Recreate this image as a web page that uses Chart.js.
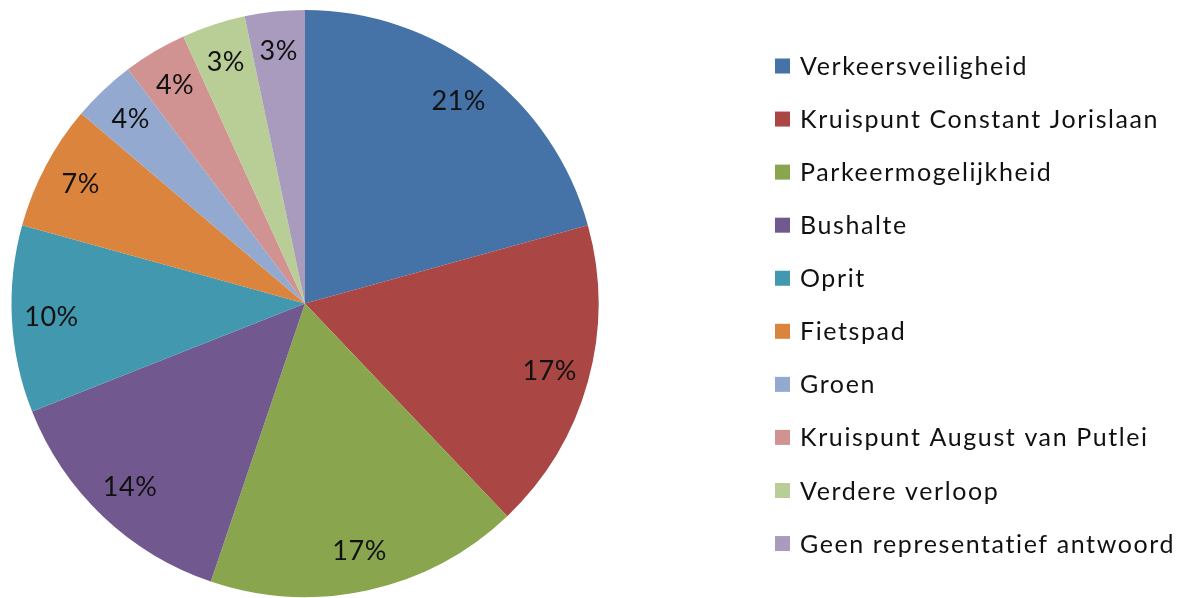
<!DOCTYPE html>
<html>
<head>
<meta charset="utf-8">
<script src="https://cdn.jsdelivr.net/npm/chart.js@4"></script>
<style>
  html, body { margin: 0; padding: 0; background: #ffffff; }
  #wrap { width: 1192px; height: 598px; }
</style>
</head>
<body>
<div id="wrap"><canvas id="c" width="1192" height="598"></canvas></div>
<script>
const categories = [
  'Verkeersveiligheid',
  'Kruispunt Constant Jorislaan',
  'Parkeermogelijkheid',
  'Bushalte',
  'Oprit',
  'Fietspad',
  'Groen',
  'Kruispunt August van Putlei',
  'Verdere verloop',
  'Geen representatief antwoord'
];
const shares = [20.7, 17.2, 17.3, 13.8, 10.3, 6.9, 3.5, 3.5, 3.5, 3.3];
const shareLabels = ['21%', '17%', '17%', '14%', '10%', '7%', '4%', '4%', '3%', '3%'];
const sliceColors = ['#4572A7', '#AA4643', '#89A54E', '#71588F', '#4198AF', '#DB843D', '#93A9CF', '#D19392', '#B9CD96', '#A99BBD'];

const FONT = 'Lato, "Open Sans", sans-serif';

const sliceLabelPlugin = {
  id: 'sliceLabels',
  afterDatasetsDraw(chart) {
    const ctx = chart.ctx;
    const meta = chart.getDatasetMeta(0);
    ctx.save();
    ctx.font = '27px ' + FONT;
    ctx.letterSpacing = '0.5px';
    ctx.fillStyle = '#111111';
    ctx.textAlign = 'center';
    ctx.textBaseline = 'middle';
    meta.data.forEach((arc, i) => {
      const p = arc.getProps(['x', 'y', 'startAngle', 'endAngle', 'outerRadius'], true);
      const mid = (p.startAngle + p.endAngle) / 2;
      const r = p.outerRadius * 0.865;
      ctx.fillText(shareLabels[i], p.x + Math.cos(mid) * r, p.y + Math.sin(mid) * r);
    });
    ctx.restore();
  }
};

const sideLegendPlugin = {
  id: 'sideLegend',
  afterDraw(chart) {
    const ctx = chart.ctx;
    ctx.save();
    ctx.font = '25px ' + FONT;
    ctx.letterSpacing = '1.6px';
    ctx.textBaseline = 'middle';
    ctx.textAlign = 'left';
    const x0 = 775, y0 = 66, step = 53.06, box = 15;
    chart.data.labels.forEach((lab, i) => {
      const y = y0 + i * step;
      ctx.fillStyle = sliceColors[i];
      ctx.fillRect(x0, y - box / 2, box, box);
      ctx.fillStyle = '#111111';
      ctx.fillText(lab, 800, y + 1);
    });
    ctx.restore();
  }
};

new Chart(document.getElementById('c'), {
  type: 'pie',
  data: {
    labels: categories,
    datasets: [{
      data: shares,
      backgroundColor: sliceColors,
      borderWidth: 0
    }]
  },
  options: {
    responsive: false,
    animation: false,
    layout: { padding: { left: 0, right: 582, top: 10, bottom: 1 } },
    plugins: {
      legend: { display: false },
      tooltip: { enabled: false }
    }
  },
  plugins: [sliceLabelPlugin, sideLegendPlugin]
});
</script>
</body>
</html>
